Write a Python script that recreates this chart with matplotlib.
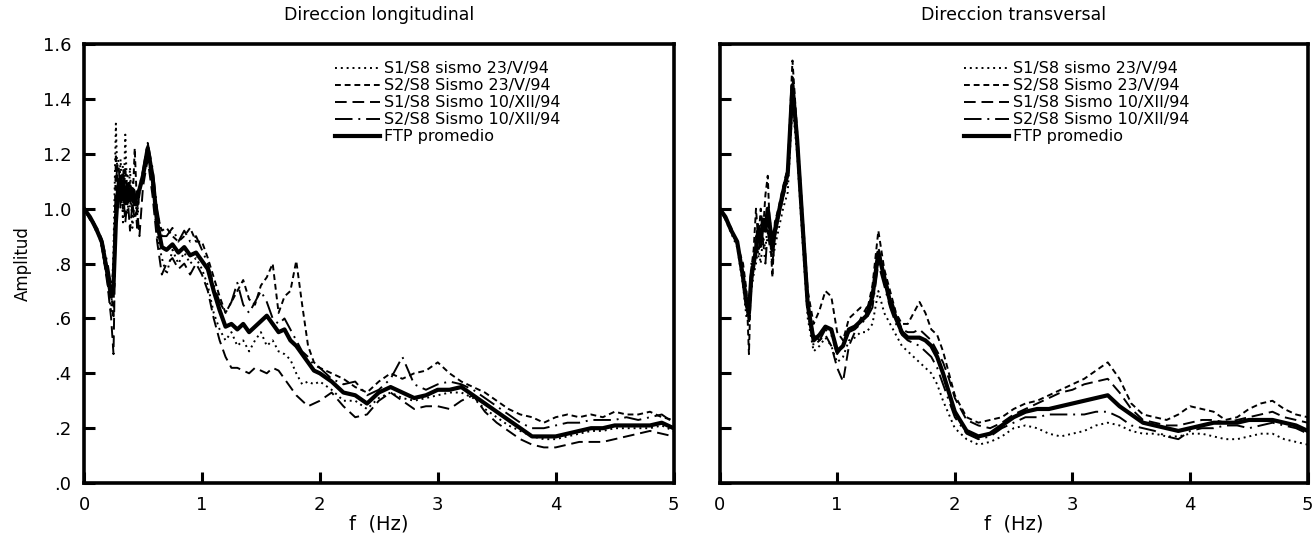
####################################################################################################
# Import Dependencies:
####################################################################################################
import matplotlib
matplotlib.use("Agg")
import matplotlib.pyplot as plt
from matplotlib.ticker import FixedLocator, FuncFormatter

plt.rcParams['font.family'] = ['DejaVu Sans']

####################################################################################################
# Data
####################################################################################################

# Frequency grid (Hz), shared by every series
freqHz = [0.0, 0.05, 0.1, 0.15, 0.2, 0.23, 0.25, 0.27, 0.29, 0.31, 0.33, 0.35, 0.37, 0.39, 0.41,
          0.43, 0.45, 0.47, 0.5, 0.54, 0.58, 0.62, 0.66, 0.7, 0.75, 0.8, 0.85, 0.9, 0.95, 1.0,
          1.05, 1.1, 1.15, 1.2, 1.25, 1.3, 1.35, 1.4, 1.45, 1.5, 1.55, 1.6, 1.65, 1.7, 1.75,
          1.8, 1.85, 1.9, 1.95, 2.0,
          2.1, 2.2, 2.3, 2.4, 2.5, 2.6, 2.7, 2.8, 2.9, 3.0, 3.1, 3.2, 3.3, 3.4, 3.5,
          3.6, 3.7, 3.8, 3.9, 4.0, 4.1, 4.2, 4.3, 4.4, 4.5, 4.6, 4.7, 4.8, 4.9, 5.0]

seriesLabels = ['S1/S8 sismo 23/V/94', 'S2/S8 Sismo 23/V/94', 'S1/S8 Sismo 10/XII/94',
                'S2/S8 Sismo 10/XII/94', 'FTP promedio']

# --- Direccion longitudinal ---
longS1May = [1.00, 0.96, 0.94, 0.86, 0.73, 0.62, 0.85, 1.31, 1.00, 1.18, 0.95, 1.27, 0.98, 1.15, 0.93,
             1.05, 0.97, 1.08, 1.10, 1.20, 1.08, 0.90, 0.82, 0.76, 0.85, 0.80, 0.84, 0.80, 0.82, 0.78,
             0.72, 0.62, 0.56, 0.52, 0.55, 0.50, 0.52, 0.48, 0.52, 0.55, 0.50, 0.52, 0.48, 0.47, 0.45,
             0.40, 0.36, 0.37, 0.36, 0.37,
             0.34, 0.30, 0.30, 0.27, 0.31, 0.33, 0.31, 0.30, 0.31, 0.32, 0.33, 0.33, 0.31, 0.27, 0.24,
             0.21, 0.19, 0.17, 0.16, 0.16, 0.17, 0.18, 0.19, 0.19, 0.20, 0.20, 0.20, 0.20, 0.21, 0.19]
longS2May = [1.00, 0.97, 0.92, 0.88, 0.78, 0.70, 0.60, 1.20, 1.05, 1.12, 1.00, 1.15, 1.02, 1.10, 1.00,
             1.22, 1.00, 1.05, 1.13, 1.23, 1.10, 0.98, 0.92, 0.93, 0.90, 0.88, 0.90, 0.93, 0.88, 0.88,
             0.82, 0.75, 0.68, 0.62, 0.66, 0.70, 0.74, 0.67, 0.65, 0.72, 0.75, 0.80, 0.62, 0.68, 0.70,
             0.81, 0.65, 0.50, 0.44, 0.42,
             0.40, 0.38, 0.35, 0.33, 0.37, 0.40, 0.38, 0.40, 0.41, 0.44, 0.40, 0.37, 0.35, 0.33, 0.30,
             0.27, 0.25, 0.24, 0.22, 0.24, 0.25, 0.24, 0.25, 0.24, 0.26, 0.25, 0.25, 0.26, 0.24, 0.23]
longS1Dec = [1.00, 0.96, 0.93, 0.87, 0.72, 0.60, 0.47, 1.00, 1.12, 1.00, 1.08, 0.95, 1.04, 0.92, 1.02,
             0.96, 1.00, 0.90, 1.08, 1.18, 1.05, 0.88, 0.76, 0.80, 0.82, 0.78, 0.80, 0.76, 0.80, 0.76,
             0.70, 0.60, 0.52, 0.46, 0.42, 0.42, 0.41, 0.40, 0.42, 0.41, 0.40, 0.42, 0.41, 0.38, 0.35,
             0.32, 0.30, 0.28, 0.29, 0.30,
             0.33, 0.28, 0.24, 0.25, 0.30, 0.33, 0.30, 0.27, 0.28, 0.28, 0.27, 0.30, 0.32, 0.26, 0.22,
             0.19, 0.16, 0.14, 0.13, 0.13, 0.14, 0.15, 0.15, 0.15, 0.16, 0.17, 0.18, 0.19, 0.18, 0.17]
longS2Dec = [1.00, 0.97, 0.94, 0.89, 0.80, 0.72, 0.78, 1.10, 1.18, 1.05, 1.16, 1.03, 1.12, 1.00, 1.10,
             1.06, 0.93, 1.08, 1.14, 1.24, 1.15, 1.00, 0.90, 0.90, 0.93, 0.88, 0.92, 0.88, 0.90, 0.85,
             0.80, 0.72, 0.66, 0.62, 0.66, 0.73, 0.65, 0.62, 0.66, 0.70, 0.66, 0.60, 0.58, 0.60, 0.56,
             0.52, 0.48, 0.46, 0.43, 0.42,
             0.38, 0.36, 0.37, 0.32, 0.34, 0.38, 0.46, 0.36, 0.34, 0.36, 0.37, 0.36, 0.34, 0.31, 0.28,
             0.25, 0.22, 0.20, 0.20, 0.21, 0.22, 0.22, 0.23, 0.23, 0.23, 0.24, 0.23, 0.24, 0.25, 0.22]
longMean = [1.00, 0.97, 0.93, 0.88, 0.76, 0.68, 0.72, 0.95, 1.08, 1.04, 1.10, 1.02, 1.08, 1.03, 1.07,
            1.02, 1.05, 1.07, 1.12, 1.22, 1.12, 0.95, 0.86, 0.85, 0.87, 0.84, 0.86, 0.83, 0.84, 0.81,
            0.78, 0.70, 0.63, 0.57, 0.58, 0.56, 0.58, 0.55, 0.57, 0.59, 0.61, 0.58, 0.55, 0.56, 0.52,
            0.50, 0.47, 0.44, 0.41, 0.40,
            0.37, 0.33, 0.32, 0.29, 0.33, 0.35, 0.33, 0.31, 0.32, 0.34, 0.34, 0.35, 0.32, 0.29, 0.26,
            0.23, 0.20, 0.17, 0.17, 0.17, 0.18, 0.19, 0.20, 0.20, 0.21, 0.21, 0.21, 0.21, 0.22, 0.20]

# --- Direccion transversal ---
tranS1May = [1.00, 0.96, 0.91, 0.86, 0.72, 0.60, 0.66, 0.70, 0.76, 0.80, 0.86, 0.80, 0.90, 0.85, 0.95,
             0.88, 0.80, 0.86, 0.92, 1.00, 1.06, 1.38, 1.20, 0.92, 0.60, 0.48, 0.50, 0.53, 0.50, 0.44,
             0.46, 0.52, 0.53, 0.55, 0.55, 0.58, 0.70, 0.62, 0.58, 0.54, 0.50, 0.48, 0.46, 0.44, 0.42,
             0.40, 0.36, 0.30, 0.25, 0.20,
             0.16, 0.14, 0.15, 0.17, 0.20, 0.21, 0.20, 0.18, 0.17, 0.18, 0.19, 0.21, 0.22, 0.21, 0.19,
             0.18, 0.18, 0.17, 0.17, 0.18, 0.18, 0.17, 0.16, 0.16, 0.17, 0.18, 0.18, 0.16, 0.15, 0.14]
tranS2May = [1.00, 0.97, 0.93, 0.87, 0.80, 0.70, 0.47, 0.78, 0.85, 1.00, 0.88, 1.00, 0.92, 1.05, 1.12,
             0.90, 0.75, 0.95, 1.00, 1.08, 1.15, 1.54, 1.28, 1.02, 0.70, 0.58, 0.63, 0.70, 0.68, 0.55,
             0.52, 0.60, 0.62, 0.64, 0.62, 0.72, 0.92, 0.78, 0.70, 0.62, 0.58, 0.58, 0.62, 0.66, 0.62,
             0.56, 0.54, 0.48, 0.40, 0.32,
             0.24, 0.22, 0.23, 0.24, 0.27, 0.29, 0.30, 0.32, 0.34, 0.36, 0.38, 0.41, 0.44, 0.38, 0.29,
             0.25, 0.24, 0.23, 0.25, 0.28, 0.27, 0.26, 0.23, 0.24, 0.27, 0.29, 0.30, 0.27, 0.25, 0.24]
tranS1Dec = [1.00, 0.96, 0.92, 0.88, 0.74, 0.66, 0.58, 0.72, 0.78, 0.88, 0.95, 0.86, 0.94, 0.95, 0.98,
             0.95, 0.88, 0.90, 0.96, 1.05, 1.12, 1.48, 1.22, 0.96, 0.64, 0.54, 0.52, 0.54, 0.50, 0.42,
             0.37, 0.50, 0.55, 0.60, 0.64, 0.66, 0.86, 0.76, 0.68, 0.62, 0.56, 0.55, 0.55, 0.56, 0.54,
             0.52, 0.48, 0.44, 0.38, 0.31,
             0.23, 0.21, 0.20, 0.22, 0.25, 0.27, 0.29, 0.31, 0.33, 0.34, 0.36, 0.37, 0.38, 0.33, 0.27,
             0.23, 0.22, 0.21, 0.21, 0.22, 0.23, 0.23, 0.22, 0.23, 0.24, 0.25, 0.26, 0.24, 0.23, 0.22]
tranS2Dec = [1.00, 0.97, 0.92, 0.87, 0.76, 0.68, 0.64, 0.80, 0.78, 0.90, 0.82, 0.94, 0.88, 0.80, 0.92,
             0.85, 0.80, 0.90, 0.96, 1.04, 1.10, 1.42, 1.24, 0.98, 0.62, 0.50, 0.52, 0.56, 0.54, 0.47,
             0.50, 0.55, 0.56, 0.58, 0.60, 0.64, 0.80, 0.72, 0.64, 0.58, 0.54, 0.52, 0.51, 0.50, 0.48,
             0.46, 0.42, 0.36, 0.30, 0.24,
             0.18, 0.16, 0.17, 0.20, 0.22, 0.24, 0.24, 0.25, 0.25, 0.25, 0.25, 0.26, 0.26, 0.24, 0.21,
             0.20, 0.19, 0.17, 0.16, 0.19, 0.20, 0.20, 0.21, 0.21, 0.20, 0.21, 0.22, 0.21, 0.20, 0.18]
tranMean = [1.00, 0.97, 0.92, 0.88, 0.75, 0.65, 0.62, 0.75, 0.80, 0.85, 0.92, 0.88, 0.96, 0.92, 1.00,
            0.93, 0.85, 0.92, 0.98, 1.06, 1.13, 1.45, 1.25, 0.98, 0.65, 0.52, 0.54, 0.57, 0.56, 0.48,
            0.50, 0.56, 0.57, 0.59, 0.61, 0.68, 0.84, 0.75, 0.66, 0.60, 0.55, 0.53, 0.53, 0.53, 0.52,
            0.50, 0.46, 0.40, 0.33, 0.26,
            0.19, 0.17, 0.18, 0.21, 0.24, 0.26, 0.27, 0.27, 0.28, 0.29, 0.30, 0.31, 0.32, 0.28, 0.25,
            0.22, 0.21, 0.20, 0.19, 0.20, 0.21, 0.22, 0.22, 0.22, 0.23, 0.23, 0.23, 0.22, 0.21, 0.19]

xTicks = [0, 1, 2, 3, 4, 5]
yTicks = [0.0, 0.2, 0.4, 0.6, 0.8, 1.0, 1.2, 1.4, 1.6]

####################################################################################################
# Line styles: dotted, short dash, medium dash, long dash-dot, thick solid
####################################################################################################
lineStyles = [(0, (1, 2)), (0, (3, 2)), (0, (6, 3)), (0, (9, 3, 1, 3)), '-']
lineWidths = [1.4, 1.4, 1.4, 1.4, 3.0]


def ampFormat(v, pos):
    # 0.4 -> ".4", 1.2 -> "1.2"
    txt = '%.1f' % v
    if txt.startswith('0'):
        txt = txt[1:]
    return txt


def drawPanel(ax, seriesList, title, showYLabels, legendX):
    for vals, lab, ls, lw in zip(seriesList, seriesLabels, lineStyles, lineWidths):
        ax.plot(freqHz, vals, color='black', linestyle=ls, linewidth=lw, label=lab)

    ax.set_xlim(0, 5)
    ax.set_ylim(0, 1.6)
    ax.xaxis.set_major_locator(FixedLocator(xTicks))
    ax.yaxis.set_major_locator(FixedLocator(yTicks))
    ax.yaxis.set_major_formatter(FuncFormatter(ampFormat))
    ax.tick_params(direction='in', length=8, width=2.2, labelsize=13, pad=9)
    if not showYLabels:
        ax.tick_params(axis='y', labelleft=False)
    for sp in ax.spines.values():
        sp.set_linewidth(2.6)

    ax.set_title(title, fontsize=12.5, pad=17)
    ax.set_xlabel('f  (Hz)', fontsize=14, labelpad=1)

    leg = ax.legend(loc='upper left', bbox_to_anchor=(legendX, 0.975), frameon=False,
                    fontsize=11.5, handlelength=2.8, handletextpad=0.25, labelspacing=0.12,
                    borderaxespad=0)
    return leg


####################################################################################################
# Figure
####################################################################################################
fig = plt.figure(figsize=(13.13, 5.44), dpi=100)
axLong = fig.add_axes([0.064, 0.112, 0.449, 0.807])
axTran = fig.add_axes([0.548, 0.112, 0.448, 0.807])

drawPanel(axLong, [longS1May, longS2May, longS1Dec, longS2Dec, longMean],
          'Direccion longitudinal', True, 0.415)
axLong.set_ylabel('Amplitud', fontsize=12, labelpad=8)

drawPanel(axTran, [tranS1May, tranS2May, tranS1Dec, tranS2Dec, tranMean],
          'Direccion transversal', False, 0.405)

fig.savefig('out.png', dpi=100)
